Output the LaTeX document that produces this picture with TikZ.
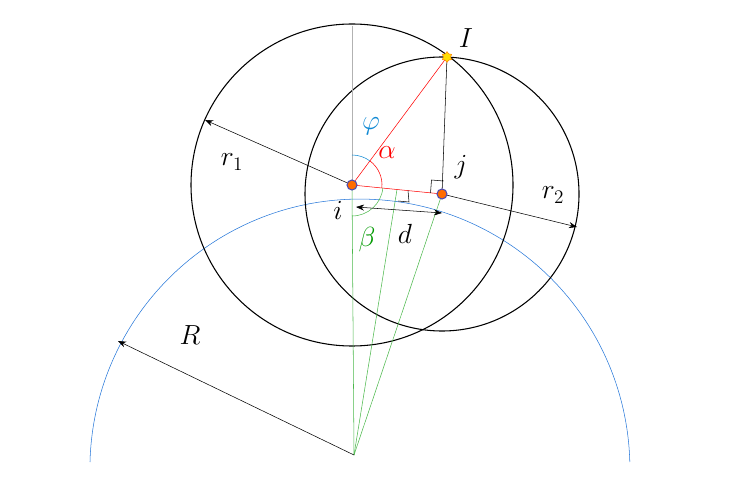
\documentclass[tikz,border=0pt]{standalone}
\usepackage{tikz}
\usetikzlibrary{arrows.meta, shapes.geometric}

\tikzset{
  lbl/.style={font=\fontsize{20}{24}\selectfont},
  pt/.style={circle, fill=orange!85!red, draw=blue!40!gray, thick, inner sep=0pt, minimum size=7.5pt},
  rad/.style={-{Stealth[length=6pt]}, thin},
  ra/.style={thin}
}

\begin{document}
\begin{tikzpicture}[x=0.75pt, y=-0.75pt]
		\useasboundingbox (0,0) rectangle (730,491);
		
		% Points
		\coordinate (O) at (354,455);
		\coordinate (i) at (352,185);
		\coordinate (j) at (442,194);
		\coordinate (m) at (397,189.5);
		\coordinate (I) at (447,57);
		\coordinate (top) at (352,26);
		
		% Big arc of radius R
		\draw[blue!55!cyan!70!gray, thin] (90,462) arc[start angle=-178.5, end angle=-1.5, radius=270];
		
		% Circles
		\draw[thick, black] (i) circle[radius=161];
		\draw[thick, black] (j) circle[radius=137];
		
		% Green lines from centre
		\draw[green!60!black!70!white, thin] (O) -- (i);
		\draw[green!60!black!70!white, thin] (O) -- (m);
		\draw[green!60!black!70!white, thin] (O) -- (j);
		
		% Vertical line and triangle
		\draw[gray!60, thin] (top) -- (i);
		\draw[red, thin] (i) -- (I);
		\draw[red, thin] (i) -- (j);
		\draw[black, thin] (j) -- (I);
		
		% Right angle marks
		\draw[ra] (430.5,193) -- (431.5,180) -- (443.5,181);
		\draw[ra] (398,201) -- (409,202) -- (408,190.5);
		
		% Angles
		\draw[cyan!70!blue, thin] (352,155) arc[start angle=-90, end angle=-53.4, radius=30];
		\draw[red, thin] (369.9,160.9) arc[start angle=-53.4, end angle=5.7, radius=30];
		\draw[green!60!black!70!white, thin] (352,216) arc[start angle=90, end angle=5.7, radius=31];
		
		% Radii
		\draw[rad] (i) -- (205,120);
		\draw[rad] (j) -- (577,227);
		\draw[rad] (O) -- (118,341);
		\draw[{Stealth[length=6pt]}-{Stealth[length=6pt]}, thin] (356,207) -- (442,213);
		
		% Point markers
		\node[pt] (pi) at (i) {};
		\node[pt] (pj) at (j) {};
		\node[star, star points=6, fill=yellow!80!orange, draw=orange, inner sep=0pt, minimum size=8pt] (pI) at (I) {};
		
		% Labels
		\node[lbl] at (466,38) {$I$};
		\node[lbl] at (461,167) {$j$};
		\node[lbl] at (338,210) {$i$};
		\node[lbl] at (232,162) {$r_1$};
		\node[lbl] at (553,195) {$r_2$};
		\node[lbl] at (190,335) {$R$};
		\node[lbl] at (405,234) {$d$};
		\node[lbl, red] at (387,153) {$\alpha$};
		\node[lbl, cyan!70!blue] at (371,126) {$\varphi$};
		\node[lbl, green!60!black] at (367,240) {$\beta$};
		
	\end{tikzpicture}
\end{document}
